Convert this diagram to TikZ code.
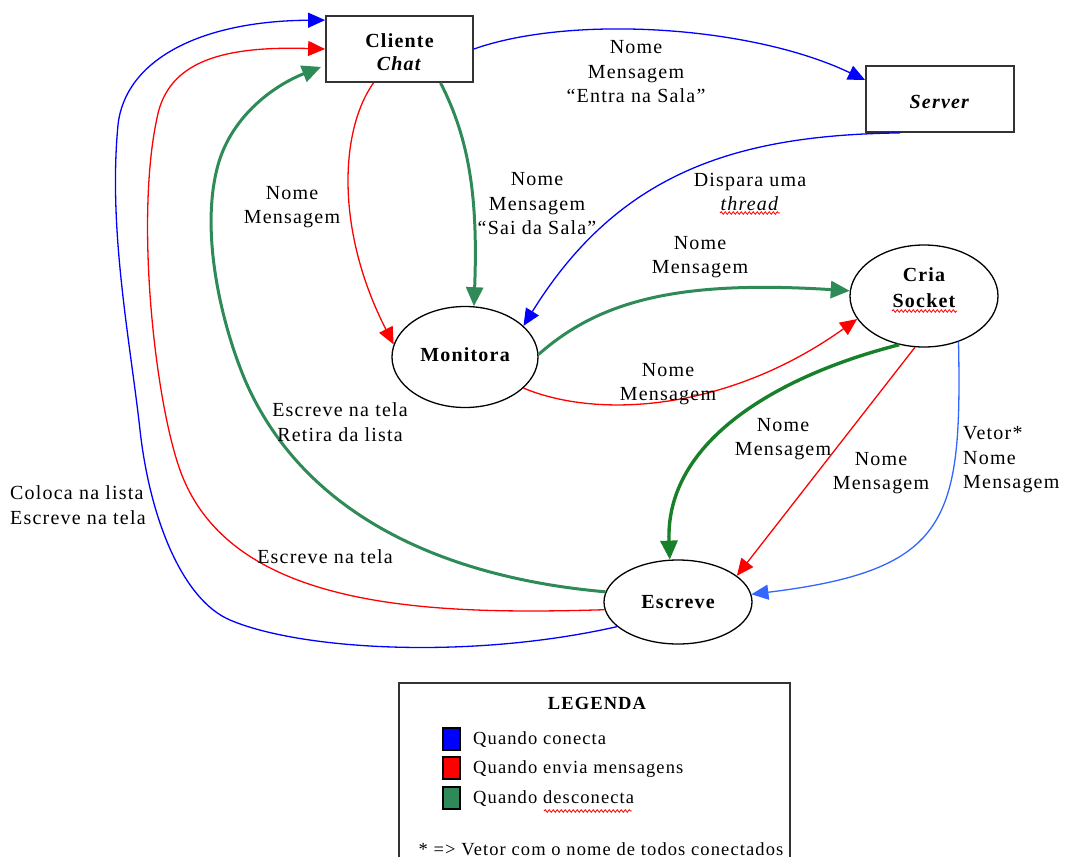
\documentclass[tikz,border=0pt]{standalone}
\usepackage{fontspec}
\setmainfont{Liberation Serif}[LetterSpace=6]
\usetikzlibrary{arrows.meta,shapes.geometric,calc,decorations.pathmorphing}

\definecolor{cblue}{HTML}{0000FF}
\definecolor{cbluelight}{HTML}{3366FF}
\definecolor{cred}{HTML}{FF0000}
\definecolor{cgreen}{HTML}{2E8B57}
\definecolor{cgreendark}{HTML}{18802A}

\begin{document}
\begin{tikzpicture}[x=1pt,y=-1pt,
  lbl/.style={font=\fontsize{20}{24.5}\selectfont, align=center, inner sep=0pt},
  lgd/.style={font=\fontsize{18.5}{22}\selectfont, inner sep=0pt},
  proc/.style={draw=black, line width=1.3pt, ellipse, inner sep=0pt,
    font=\fontsize{20}{25}\selectfont\bfseries, align=center},
  proctext/.style={inner sep=0pt, font=\fontsize{20}{26}\selectfont\bfseries, align=center},
  block/.style={draw=black!80, line width=1.8pt, rectangle, inner sep=0pt,
    font=\fontsize{20}{23}\selectfont\bfseries, align=center},
  thinarrow/.style={line width=1.3pt, -{Triangle[length=17pt,width=15pt]}},
  thickarrow/.style={line width=3pt, -{Triangle[length=19pt,width=17pt]}},
  swatch/.style={draw=black, line width=1.2pt, minimum width=17pt, minimum height=22pt, inner sep=0pt},
  spell/.style={cred, line width=0.8pt, decorate,
    decoration={snake, amplitude=1.3pt, segment length=4pt}}]

\useasboundingbox (0,0) rectangle (1066,857);

% ---- processes ----
\node[block, minimum width=147pt, minimum height=66pt] (cliente) at (399.5,49) {};
\node[proctext, font=\fontsize{20}{23}\selectfont\bfseries] (clientetext) at ($(cliente.center)+(0,3)$)
  {Cliente\\\textit{Chat}};
\node[block, minimum width=148pt, minimum height=66pt] (server) at (940,99) {};
\node[proctext] (servertext) at ($(server.center)+(0,3)$) {\textit{Server}};
\node[proc, minimum width=146pt, minimum height=101pt] (monitora) at (465,357) {\raisebox{4pt}{Monitora}};
\node[proc, minimum width=148pt, minimum height=102pt] (cria) at (924,296) {};
\node[proctext] (criatext) at ($(cria.center)+(0,-8)$) {Cria\\Socket};
\node[proc, minimum width=148pt, minimum height=84pt] (escreve) at (678,602) {Escreve};

% ---- connect (blue) ----
\draw[thinarrow, cblue] (escreve.202) .. controls (470,660) and (300,650) .. (230,620)
  .. controls (183,600) and (150,520) .. (140,430)
  .. controls (130,340) and (108,230) .. (118,125)
  .. controls (125,60) and (200,21) .. ($(cliente.north west)+(0,5)$);
\draw[thinarrow, cblue] (cliente.east) .. controls (570,15) and (750,25) .. ($(server.west)+(0,-19)$);
\draw[thinarrow, cblue] ($(server.south)+(-40,0)$) .. controls (740,135) and (620,170) .. (monitora.28);
\draw[thinarrow, cbluelight] (cria.307) .. controls (962,520) and (950,570) .. (escreve.6);

% ---- send messages (red) ----
\draw[thinarrow, cred] (escreve.186) .. controls (430,615) and (230,610) .. (180,470)
  .. controls (155,400) and (135,220) .. (157,118)
  .. controls (168,60) and (225,46) .. (cliente.west);
\draw[thinarrow, cred] ($(cliente.south)+(-26,0)$) .. controls (340,130) and (335,230) .. (monitora.170);
\draw[thinarrow, cred] (monitora.-28) .. controls (600,420) and (730,410) .. (cria.199);
\draw[thinarrow, cred] (cria.260) -- (escreve.24);

% ---- disconnect (green) ----
\draw[thickarrow, cgreen] (escreve.172) .. controls (470,580) and (310,530) .. (245,380)
  .. controls (220,320) and (200,230) .. (218,165)
  .. controls (232,115) and (275,85) .. ($(cliente.south west)+(-4,-16)$);
\draw[thickarrow, cgreen] ($(cliente.south)+(41,0)$) .. controls (470,140) and (478,200) .. (monitora.80);
\draw[thickarrow, cgreen] (monitora.2) .. controls (600,300) and (680,280) .. (cria.176);
\draw[thickarrow, cgreendark, line width=3.4pt] (cria.243) .. controls (780,375) and (665,440) .. (escreve.101);

% ---- labels ----
\node[lbl] (l1) at (636,72) {Nome\\Mensagem\\“Entra na Sala”};
\node[lbl] (l2) at (750,192) {Dispara uma\\\textit{thread}};
\node[lbl] (l3) at (537,204) {Nome\\Mensagem\\“Sai da Sala”};
\node[lbl] (l4) at (292,207) {Nome\\Mensagem};
\node[lbl] (l5) at (700,257) {Nome\\Mensagem};
\node[lbl] (l6) at (668,384) {Nome\\Mensagem};
\node[lbl] (l7) at (340,422) {Escreve na tela\\Retira da lista};
\node[lbl] (l8) at (325,557) {Escreve na tela};
\node[lbl, align=left, anchor=west] (l9) at (10,505) {Coloca na lista\\Escreve na tela};
\node[lbl] (l10) at (783,439) {Nome\\Mensagem};
\node[lbl] (l11) at (881,473) {Nome\\Mensagem};
\node[lbl, align=left, anchor=west] (l12) at (963,460) {Vetor*\\Nome\\Mensagem};

% spell-check marks
\draw[spell] ($(cria.center)+(-32,15)$) -- ($(cria.center)+(33,15)$);
\draw[spell] ($(l2.center)+(-30,21)$) -- ($(l2.center)+(30,21)$);

% ---- legend ----
\draw[line width=1.3pt, black!80] (399,860) -- (399,683) -- (790,683) -- (790,860);
\node[lgd, font=\fontsize{18.5}{22}\selectfont\bfseries] (lgtitle) at (597,703) {LEGENDA};
\node[swatch, fill=cblue] (sw1) at (451.5,739) {};
\node[swatch, fill=cred] (sw2) at (451.5,768) {};
\node[swatch, fill=cgreen] (sw3) at (451.5,798) {};
\node[lgd, anchor=west] (lg1) at (473,740) {Quando conecta};
\node[lgd, anchor=west] (lg2) at (473,769) {Quando envia mensagens};
\node[lgd, anchor=west] (lg3) at (473,799) {Quando desconecta};
\draw[spell] (544,811) -- (632,811);
\node[lgd, anchor=base] (lgnote) at (601,855) {* => Vetor com o nome de todos conectados};

\end{tikzpicture}
\end{document}
